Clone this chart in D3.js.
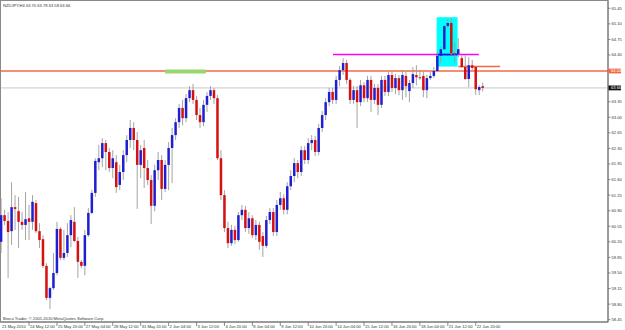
<!DOCTYPE html>
<html><head><meta charset="utf-8">
<script src="https://cdn.jsdelivr.net/npm/d3@7/dist/d3.min.js"></script>
<style>
html,body{margin:0;padding:0;background:#fff;}
svg{display:block;}
text{font-family:"Liberation Sans",Arial,sans-serif;}
</style></head><body>
<svg id="c" width="625" height="330"></svg>
<script>
// ---------- data ----------
const symbol = "NZDJPY,H4";
const lastBar = ["63.70","63.78","63.58","63.66"];
const copyright = "Broco Trader, \u00A9 2001-2010 MetaQuotes Software Corp.";
const opens = [60.20,60.80,60.67,60.44,60.98,60.89,60.65,60.58,60.73,60.65,61.07,60.44,60.26,59.66,58.94,59.16,59.50,60.49,59.84,59.95,60.35,60.65,60.22,59.75,59.66,60.35,60.85,61.30,61.99,62.08,62.42,62.22,61.86,61.99,61.48,61.77,62.15,62.49,62.76,62.49,61.93,62.31,61.86,61.59,61.01,61.81,62.04,61.39,61.93,62.31,62.60,62.89,63.21,62.98,63.43,63.61,63.39,63.05,62.89,63.28,63.48,63.61,63.43,62.08,61.25,60.51,60.17,60.47,60.24,60.80,60.92,60.51,60.73,60.35,60.58,60.33,60.11,60.69,60.87,60.42,61.03,61.18,60.92,61.45,61.68,61.97,61.77,62.26,62.04,62.42,62.49,62.22,62.76,63.05,63.34,63.57,63.39,63.84,64.06,64.22,63.84,63.39,63.61,63.34,63.72,63.43,63.84,63.39,63.66,63.28,63.84,63.57,63.95,63.66,63.88,63.61,63.93,63.59,63.77,63.95,63.90,63.93,63.61,63.88,63.93,64.04,64.38,64.53,65.05,65.12,64.44,64.42,64.33,64.13,63.86,64.17,64.13,63.61,63.70];
const highs = [61.18,60.92,60.87,61.54,61.25,61.21,60.87,61.32,61.03,61.25,61.14,60.62,60.35,59.72,59.19,59.95,60.65,60.53,60.47,60.62,60.80,60.98,60.31,59.79,60.47,60.96,61.37,62.08,62.38,62.53,62.49,62.31,62.26,62.15,61.93,62.26,62.60,62.94,62.89,62.67,62.38,62.49,62.04,61.70,61.93,62.22,62.15,62.04,62.44,62.76,62.98,63.30,63.39,63.52,63.70,63.75,63.48,63.21,63.39,63.57,63.70,63.66,63.50,62.26,61.36,60.65,60.58,60.56,60.87,61.03,61.01,60.87,60.80,60.69,60.65,60.42,60.78,60.96,60.96,61.14,61.32,61.27,61.54,61.81,62.08,62.04,62.35,62.35,62.53,62.60,62.58,62.85,63.14,63.43,63.66,63.66,63.93,64.15,64.33,64.29,63.88,63.70,63.70,63.84,63.79,63.93,63.93,63.75,63.75,63.93,63.93,64.02,64.02,63.97,63.95,64.06,64.02,63.84,64.13,64.17,64.06,64.02,63.95,64.02,64.13,64.47,64.58,65.07,65.21,65.23,64.67,64.78,64.40,64.40,64.35,64.29,64.13,63.72,63.78];
const lows = [59.95,60.58,59.39,60.13,60.47,60.06,60.47,60.24,60.24,60.47,60.40,60.06,59.61,58.89,58.69,59.12,59.45,59.79,59.79,59.86,60.08,60.20,59.39,59.61,59.45,60.31,60.82,61.21,61.81,61.88,61.81,61.77,61.63,61.30,61.36,61.59,61.99,62.31,62.26,60.94,61.63,61.41,61.48,60.60,60.89,61.59,61.14,61.32,61.36,61.52,62.49,62.76,62.82,62.89,63.34,63.30,62.94,62.76,62.80,63.12,63.39,63.30,62.04,61.14,60.42,60.06,60.11,60.15,60.20,60.69,60.42,60.38,60.29,60.24,60.02,59.86,60.06,60.60,60.33,60.33,60.92,60.82,60.82,61.36,61.54,61.63,61.68,61.95,61.95,62.26,62.13,62.15,62.67,62.94,63.25,63.30,63.30,63.70,63.95,63.75,63.30,63.30,62.76,63.25,63.34,63.34,63.12,63.30,63.05,63.21,63.48,63.48,63.57,63.52,63.50,63.39,63.45,63.34,63.66,63.72,63.84,63.45,63.43,63.84,63.88,64.02,64.22,64.51,65.00,64.40,64.22,64.35,64.11,63.84,63.68,64.06,63.50,63.50,63.58];
const closes = [60.80,60.67,60.42,60.98,60.94,60.65,60.58,60.71,60.65,61.10,60.44,60.24,59.66,58.94,59.16,59.50,60.49,59.84,59.95,60.35,60.69,60.22,59.75,59.66,60.35,60.85,61.30,62.02,62.08,62.42,62.22,61.86,62.08,61.43,61.77,62.15,62.49,62.76,62.49,61.93,62.26,61.86,61.59,61.01,61.81,62.04,61.39,61.93,62.31,62.60,62.89,63.21,62.98,63.43,63.61,63.39,63.05,62.89,63.28,63.48,63.61,63.43,62.08,61.25,60.51,60.17,60.47,60.24,60.80,60.92,60.51,60.73,60.35,60.58,60.20,60.11,60.69,60.87,60.42,61.03,61.18,60.92,61.45,61.68,61.97,61.77,62.26,62.04,62.42,62.49,62.22,62.76,63.05,63.34,63.57,63.39,63.84,64.06,64.22,63.84,63.39,63.61,63.34,63.72,63.43,63.84,63.39,63.66,63.28,63.84,63.57,63.95,63.66,63.88,63.61,63.95,63.70,63.77,63.97,63.90,63.88,63.61,63.88,63.93,64.04,64.38,64.53,65.05,65.12,64.44,64.42,64.53,64.13,63.86,64.17,64.11,63.63,63.68,63.66];
const dateLabels = ["21 May 2010","24 May 12:00","25 May 20:00","27 May 04:00","28 May 12:00","31 May 20:00","2 Jun 04:00","3 Jun 12:00","4 Jun 20:00","8 Jun 04:00","9 Jun 12:00","10 Jun 20:00","14 Jun 04:00","15 Jun 12:00","16 Jun 20:00","18 Jun 04:00","21 Jun 12:00","22 Jun 20:00"];
const dateLabelBars = [0,8,16,24,32,40,48,56,64,72,80,88,96,104,112,120,128,136];
const priceTicks = [58.45,58.80,59.15,59.50,59.85,60.20,60.55,60.90,61.25,61.60,61.95,62.30,62.65,63.00,63.35,63.70,64.05,64.40,64.75,65.10,65.45];
// chart objects (bar index / price anchors)
const hLinePrice = 64.04;          // full-width horizontal line
const boxBars = [124.8, 130.8];    // cyan rectangle time span
const boxPrices = [65.25, 64.14];  // cyan rectangle price span
const magentaBars = [95.1, 136.9]; const magentaPrice = 64.41;
const orangeBars = [131, 143];     const orangePrice = 64.14;
const greenBars = [47, 58.7];      const greenPrice = 64.03;

// ---------- scales ----------
const plotRight = 608, plotBottom = 322;
const x = d3.scaleLinear().domain([0, 138]).range([1.1, 482.7]);
const y = d3.scaleLinear().domain([58.45, 65.45]).range([319.7, 8.3]);
const bars = opens.map((o, i) => ({i, o, h: highs[i], l: lows[i], c: closes[i]}));

const svg = d3.select("#c");
const FS = 4.1;

// frame
svg.append("rect").attr("x", 0.5).attr("y", 0.5).attr("width", plotRight - 0.5).attr("height", plotBottom - 0.5)
  .attr("fill", "#fff").attr("stroke", "#8a8a8a").attr("stroke-width", 1);

// cyan rectangle
svg.append("rect").attr("x", x(boxBars[0])).attr("y", y(boxPrices[0]))
  .attr("width", x(boxBars[1]) - x(boxBars[0])).attr("height", y(boxPrices[1]) - y(boxPrices[0]))
  .attr("fill", "#00ffff");

// horizontal lines
svg.append("line").attr("x1", 1).attr("x2", plotRight).attr("y1", y(hLinePrice)).attr("y2", y(hLinePrice))
  .attr("stroke", "#f26a45").attr("stroke-width", 1.3);
svg.append("line").attr("x1", 1).attr("x2", plotRight).attr("y1", y(closes[closes.length-1])).attr("y2", y(closes[closes.length-1]))
  .attr("stroke", "#c8c8c8").attr("stroke-width", 1);
svg.append("line").attr("x1", x(greenBars[0])).attr("x2", x(greenBars[1])).attr("y1", y(greenPrice)).attr("y2", y(greenPrice))
  .attr("stroke", "#9ad66e").attr("stroke-width", 4);
svg.append("line").attr("x1", x(magentaBars[0])).attr("x2", x(magentaBars[1])).attr("y1", y(magentaPrice)).attr("y2", y(magentaPrice))
  .attr("stroke", "#ff00ff").attr("stroke-width", 1.6);
svg.append("line").attr("x1", x(boxBars[0])).attr("x2", x(boxBars[1])).attr("y1", y(magentaPrice)).attr("y2", y(magentaPrice))
  .attr("stroke", "#1010e0").attr("stroke-width", 1.6);
svg.append("line").attr("x1", x(orangeBars[0])).attr("x2", x(orangeBars[1])).attr("y1", y(orangePrice)).attr("y2", y(orangePrice))
  .attr("stroke", "#f26a45").attr("stroke-width", 1.5);

// candles
const g = svg.append("g");
g.selectAll("line.w").data(bars).join("line").attr("class", "w")
  .attr("x1", d => x(d.i)).attr("x2", d => x(d.i))
  .attr("y1", d => y(d.h)).attr("y2", d => y(d.l))
  .attr("stroke", "#9a9a9a").attr("stroke-width", 0.9);
const bw = 2.5;
g.selectAll("rect.b").data(bars).join("rect").attr("class", "b")
  .attr("x", d => x(d.i) - bw / 2).attr("width", bw)
  .attr("y", d => y(Math.max(d.o, d.c)))
  .attr("height", d => Math.max(0.8, Math.abs(y(d.o) - y(d.c))))
  .attr("fill", d => d.c >= d.o ? "#1f1fd0" : "#d41010");

// axes lines
svg.append("line").attr("x1", plotRight).attr("x2", plotRight).attr("y1", 0.5).attr("y2", plotBottom)
  .attr("stroke", "#707070").attr("stroke-width", 1);
svg.append("line").attr("x1", 0.5).attr("x2", plotRight).attr("y1", plotBottom).attr("y2", plotBottom)
  .attr("stroke", "#707070").attr("stroke-width", 1);

// price axis labels (those hidden behind the price markers are skipped)
const markers = [hLinePrice, closes[closes.length-1]];
const ya = svg.append("g");
priceTicks.forEach(p => {
  ya.append("line").attr("x1", plotRight).attr("x2", plotRight + 2.5).attr("y1", y(p)).attr("y2", y(p))
    .attr("stroke", "#707070").attr("stroke-width", 0.8);
  if (markers.some(m => Math.abs(y(m) - y(p)) < 6)) return;
  ya.append("text").attr("x", plotRight + 3.5).attr("y", y(p)).attr("dy", "0.35em")
    .attr("font-size", FS).attr("fill", "#333").text(p.toFixed(2));
});
function marker(p, bg) {
  svg.append("rect").attr("x", plotRight + 0.5).attr("y", y(p) - 2.4).attr("width", 12.5).attr("height", 4.8).attr("fill", bg);
  svg.append("text").attr("x", plotRight + 3).attr("y", y(p)).attr("dy", "0.35em")
    .attr("font-size", FS).attr("fill", "#fff").text(p.toFixed(2));
}
marker(hLinePrice, "#f26a45");
marker(closes[closes.length-1], "#111");

// time axis
dateLabelBars.forEach((b, k) => {
  const xx = k === 0 ? 1 : x(b);
  if (k > 0) svg.append("line").attr("x1", xx).attr("x2", xx).attr("y1", plotBottom).attr("y2", plotBottom + 4)
    .attr("stroke", "#707070").attr("stroke-width", 0.8);
  svg.append("text").attr("x", xx + 1).attr("y", 327.5).attr("font-size", FS).attr("fill", "#333").text(dateLabels[k]);
});

// header / footer text
svg.append("text").attr("x", 3).attr("y", 6.6).attr("font-size", FS).attr("fill", "#333")
  .text(symbol + "  " + lastBar.join(" "));
svg.append("text").attr("x", 3).attr("y", 320.3).attr("font-size", FS).attr("fill", "#333").text(copyright);
</script></body></html>
